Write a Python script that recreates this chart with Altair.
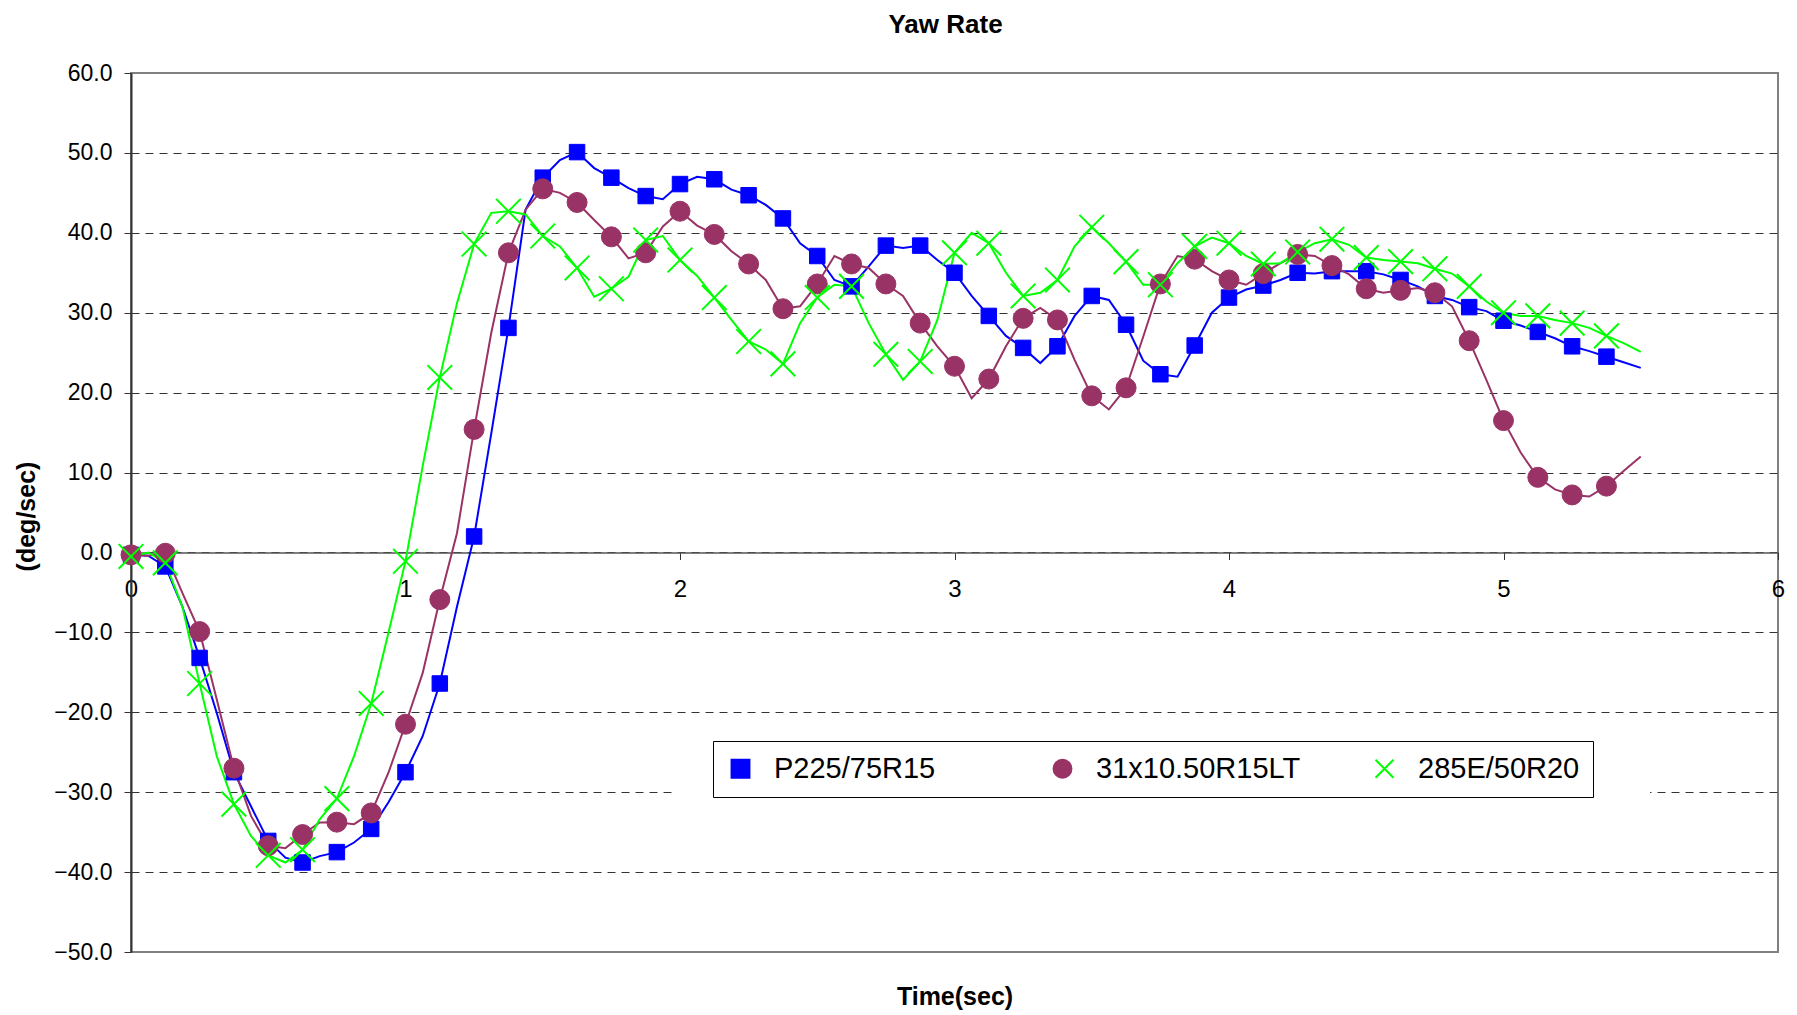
import altair as alt
import pandas as pd

# ---------------- data ----------------
SERIES = ["P225/75R15", "31x10.50R15LT", "285E/50R20"]
COLORS = ["#0000FF", "#993366", "#00FF00"]
SHAPES = ["square", "circle", "M-1,-1L1,1M-1,1L1,-1"]
MARKER_SIZES = [240, 400, 610]
MARKER_STROKES = [1, 1, 2]

# sample times (s), one reading every 0.0625 s
TIME = [round(i * 0.0625, 4) for i in range(89)]

P225 = [-0.3, -0.4, -1.75, -6.8, -13.2, -20.1, -27.5, -31.8, -36.1, -38.2,
        -38.8, -38.0, -37.5, -36.3, -34.6, -31.3, -27.5, -23.0, -16.4, -6.8,
        2.0, 14.9, 28.1, 42.9, 46.9, 49.1, 50.1, 48.1, 46.9, 45.6,
        44.6, 44.2, 46.1, 47.0, 46.7, 45.4, 44.7, 43.5, 41.8, 38.7,
        37.1, 34.1, 33.3, 35.8, 38.4, 38.1, 38.4, 36.6, 35.0, 32.1,
        29.6, 27.1, 25.6, 23.7, 25.8, 29.6, 32.1, 31.6, 28.5, 24.0,
        22.3, 22.0, 25.9, 30.0, 31.9, 32.9, 33.4, 34.1, 35.0, 34.9,
        35.2, 35.2, 35.2, 34.8, 34.1, 33.3, 32.1, 31.6, 30.7, 30.2,
        29.0, 28.4, 27.6, 26.8, 25.8, 25.2, 24.5, 23.8, 23.1]

LT31 = [-0.3, -0.4, -0.1, -5.1, -9.9, -18.4, -27.0, -33.0, -36.7, -37.0,
        -35.3, -33.8, -33.75, -34.0, -32.6, -27.6, -21.5, -15.1, -5.9, 2.4,
        15.4, 27.5, 37.5, 42.9, 45.5, 45.0, 43.8, 41.6, 39.5, 36.8,
        37.5, 40.8, 42.7, 40.9, 39.8, 37.7, 36.1, 34.1, 30.5, 30.8,
        33.6, 37.1, 36.1, 35.6, 33.6, 32.1, 28.7, 25.8, 23.3, 19.3,
        21.7, 25.8, 29.3, 30.6, 29.1, 24.1, 19.6, 17.9, 20.6, 27.0,
        33.6, 37.1, 36.7, 35.2, 34.1, 33.5, 34.9, 36.2, 37.3, 37.1,
        35.9, 34.8, 33.0, 32.5, 32.8, 33.1, 32.5, 30.8, 26.5, 21.6,
        16.5, 12.5, 9.4, 7.9, 7.2, 7.0, 8.3, 10.2, 12.0]

E285 = [-0.5, 0.0, -1.3, -6.8, -16.4, -25.5, -31.5, -35.5, -37.9, -38.8,
        -37.2, -33.4, -30.8, -25.5, -18.9, -10.1, -1.1, 10.8, 21.9, 31.2,
        38.6, 42.5, 42.7, 42.3, 39.6, 38.3, 35.6, 32.0, 33.0, 34.5,
        39.1, 39.6, 36.6, 34.6, 31.9, 29.1, 26.4, 25.4, 23.6, 28.7,
        31.9, 33.5, 33.3, 28.7, 24.8, 21.6, 23.9, 29.1, 37.5, 40.0,
        38.7, 35.0, 32.1, 32.5, 34.1, 38.3, 40.7, 38.7, 36.4, 33.5,
        33.5, 36.2, 38.3, 39.4, 38.7, 37.1, 36.1, 36.2, 37.6, 38.7,
        39.2, 38.5, 36.9, 36.6, 36.4, 36.2, 35.5, 34.9, 33.3, 31.4,
        30.0, 29.6, 29.6, 29.1, 28.7, 28.1, 27.1, 26.2, 25.1]

Y_TICKS = [-50, -40, -30, -20, -10, 0, 10, 20, 30, 40, 50, 60]
X_TICKS = [0, 1, 2, 3, 4, 5, 6]
LAST_MARKER_T = 5.375

rows = []
for s, vals in zip(SERIES, [P225, LT31, E285]):
    for i, (t, v) in enumerate(zip(TIME, vals)):
        rows.append({"series": s, "t": t, "v": v, "idx": i})
line_df = pd.DataFrame(rows)
marker_df = line_df[(line_df["idx"] % 2 == 0) & (line_df["t"] <= LAST_MARKER_T)]

# ---------------- layout ----------------
W, H = 1647, 879
FONT = "Liberation Sans"
Y_MIN, Y_MAX = -50, 60
x_offset = -H * (0 - Y_MIN) / (Y_MAX - Y_MIN)  # put x axis on the zero line

x_enc = alt.X("t:Q", scale=alt.Scale(domain=[0, 6], nice=False, zero=False),
              axis=alt.Axis(values=X_TICKS, format="d", offset=x_offset,
                            grid=False, labelFontSize=24, labelPadding=18,
                            labelColor="black", labelFont=FONT, labelFlush=False,
                            labelOverlap=False,
                            tickSize=7, tickColor="#333333", tickWidth=1,
                            domainColor="#555555", domainWidth=1.5,
                            title="Time(sec)", titleFontSize=25, titleFont=FONT,
                            titleFontWeight="bold", titleColor="black",
                            titleY=444, titleBaseline="middle"))
y_enc = alt.Y("v:Q", scale=alt.Scale(domain=[Y_MIN, Y_MAX], nice=False, zero=False),
              axis=alt.Axis(values=Y_TICKS, format=".1f", grid=True,
                            gridDash=[8, 6], gridColor="#333333", gridWidth=1,
                            gridOpacity={"condition": {"test": "datum.value === 60 || datum.value === -50",
                                                       "value": 0}, "value": 1},
                            labelFontSize=23, labelPadding=12, labelColor="black",
                            labelFont=FONT, labelFlush=False, labelOverlap=False,
                            tickSize=7, tickColor="#333333",
                            domainColor="#333333", domainWidth=2,
                            title="(deg/sec)", titleFontSize=25, titleFont=FONT,
                            titleFontWeight="bold", titleColor="black",
                            titleAngle=270, titleX=-105, titleY=443,
                            titleAlign="center", titleBaseline="middle"))

occluder = alt.Chart(pd.DataFrame({"a": [0]})).mark_rect(color="white", opacity=1).encode(
    x=alt.value(545), x2=alt.value(1519), y=alt.value(645), y2=alt.value(727)
)


def make_legend():
    return alt.Legend(
        title=None, orient="none", legendX=582, legendY=668,
        direction="horizontal", columns=3, gridAlign="all",
        columnPadding=69, labelOffset=19, labelFontSize=29, labelFont=FONT,
        labelLimit=400, labelColor="black", symbolSize=320, symbolStrokeWidth=2,
        padding=13, strokeColor="black", fillColor="white", cornerRadius=0,
    )


layers = [occluder]
for s, c in zip(SERIES, COLORS):
    layers.append(
        alt.Chart(line_df[line_df["series"] == s]).mark_line(
            color=c, strokeWidth=2, opacity=1
        ).encode(x=x_enc, y=y_enc, order="t:Q")
    )
for s, sz, sw in zip(SERIES, MARKER_SIZES, MARKER_STROKES):
    layers.append(
        alt.Chart(marker_df[marker_df["series"] == s]).mark_point(
            filled=True, opacity=1, size=sz, strokeWidth=sw
        ).encode(
            x=x_enc, y=y_enc,
            fill=alt.Fill("series:N", scale=alt.Scale(domain=SERIES, range=COLORS),
                          legend=make_legend()),
            stroke=alt.Stroke("series:N", scale=alt.Scale(domain=SERIES, range=COLORS),
                              legend=make_legend()),
            shape=alt.Shape("series:N", scale=alt.Scale(domain=SERIES, range=SHAPES),
                            legend=make_legend()),
        )
    )

chart = alt.layer(*layers).properties(
    width=W, height=H,
    padding={"left": 123, "top": 65, "right": 10, "bottom": 62},
    autosize="none",
    title=alt.TitleParams("Yaw Rate", fontSize=26, fontWeight="bold", font=FONT,
                          anchor="middle", offset=24, dx=-9, color="black"),
).configure(
    font=FONT, background="white"
).configure_view(
    stroke="#808080", strokeWidth=2
)

chart.save("out.html", embed_options={"renderer": "svg", "actions": False})
